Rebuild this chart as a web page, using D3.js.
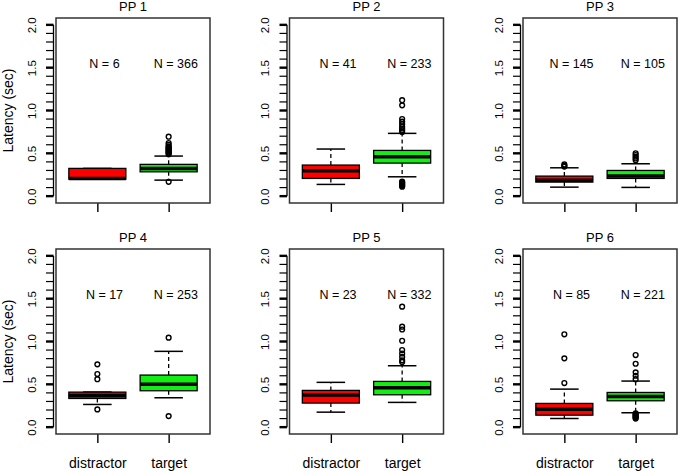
<!DOCTYPE html>
<html>
<head>
<meta charset="utf-8">
<script src="https://cdn.jsdelivr.net/npm/d3@7"></script>
<style>
  body { margin: 0; background: #fff; }
  svg { font-family: "Liberation Sans", Arial, sans-serif; }
</style>
</head>
<body>
<div id="chart"></div>
<script>
// data (seconds)
var panelTitles = ["PP 1", "PP 2", "PP 3", "PP 4", "PP 5", "PP 6"];
var groups = ["distractor", "target"];
var nObs = [[6, 366], [41, 233], [145, 105], [17, 253], [23, 332], [85, 221]];
var whiskerLow = [[0.199, 0.187], [0.137, 0.226], [0.105, 0.102], [0.265, 0.343], [0.175, 0.289], [0.101, 0.168]];
var quart1 = [[0.199, 0.284], [0.207, 0.386], [0.164, 0.207], [0.335, 0.425], [0.281, 0.378], [0.140, 0.308]];
var medians = [[0.205, 0.324], [0.296, 0.460], [0.187, 0.234], [0.370, 0.500], [0.374, 0.460], [0.210, 0.359]];
var quart3 = [[0.324, 0.371], [0.363, 0.534], [0.234, 0.300], [0.409, 0.608], [0.429, 0.534], [0.277, 0.405]];
var whiskerHigh = [[0.324, 0.468], [0.550, 0.733], [0.331, 0.378], [0.410, 0.885], [0.523, 0.717], [0.444, 0.538]];
var outliers = [
    [[], [0.167, 0.49, 0.50, 0.51, 0.52, 0.53, 0.54, 0.55, 0.56, 0.57, 0.58, 0.60, 0.62, 0.694]],
    [[], [0.11, 0.12, 0.13, 0.14, 0.15, 0.16, 0.17, 0.75, 0.77, 0.79, 0.81, 0.84, 0.87, 0.90, 1.06, 1.12]],
    [[0.345, 0.355, 0.37], [0.42, 0.44, 0.46, 0.48, 0.50]],
    [[0.207, 0.56, 0.62, 0.733], [0.129, 1.045]],
    [[], [0.76, 0.78, 0.82, 0.86, 0.90, 1.009, 1.14, 1.173, 1.407]],
    [[0.515, 0.803, 1.084], [0.10, 0.11, 0.12, 0.13, 0.14, 0.15, 0.16, 0.56, 0.60, 0.64, 0.74, 0.842]]
];
var yTicks = [0, 0.1, 0.2, 0.3, 0.4, 0.5, 0.6, 0.7, 0.8, 0.9, 1.0, 1.1, 1.2, 1.3, 1.4, 1.5, 1.6, 1.7, 1.8, 1.9, 2.0];
var yMajor = [0, 0.5, 1.0, 1.5, 2.0];
var groupColors = ["#ff0000", "#11ee11"];

var W = 679, H = 471;
var panelW = 154, panelH = 185;
var panelX = [56, 289.5, 523];
var panelY = [18, 249];

var svg = d3.select('#chart')
    .append('svg')
    .attr('width', W)
    .attr('height', H);

// scales shared by all panels (R style 4% padding)
var x = d3.scaleLinear().domain([0.42, 2.58]).range([0, panelW]);
var y = d3.scaleLinear().domain([-0.08, 2.08]).range([panelH, 0]);

var boxHalf = 0.4, stapleHalf = 0.2;

function isMajor(d) {
    return yMajor.some(function(m) { return Math.abs(m - d) < 1e-9; });
}

panelTitles.forEach(function(title, p) {
    var col = p % 3, row = Math.floor(p / 3);
    var g = svg.append('g')
        .attr('transform', 'translate(' + panelX[col] + ',' + panelY[row] + ')');

    // title
    g.append('text')
        .attr('x', panelW / 2)
        .attr('y', -7)
        .attr('text-anchor', 'middle')
        .attr('font-size', 13)
        .text(title);

    // y axis: labels from d3 axis, comb of ticks drawn from the same scale
    var yAxis = d3.axisLeft(y)
        .tickValues(yMajor)
        .tickSize(0)
        .tickFormat(d3.format('.1f'));

    var ya = g.append('g')
        .attr('class', 'y-axis')
        .attr('transform', 'translate(-2.5,0)')
        .call(yAxis);
    ya.select('.domain').remove();
    ya.selectAll('.tick text')
        .attr('x', 0)
        .attr('dy', '0.35em')
        .attr('transform', 'translate(-22,0) rotate(-90)')
        .attr('text-anchor', 'middle')
        .attr('font-size', 11.5)
        .attr('fill', '#000');

    ya.selectAll('line.comb')
        .data(yTicks)
        .enter()
        .append('line')
        .attr('class', 'comb')
        .attr('x1', -7.5)
        .attr('x2', 0)
        .attr('y1', function(d) { return y(d); })
        .attr('y2', function(d) { return y(d); })
        .attr('stroke', '#000')
        .attr('stroke-width', function(d) { return isMajor(d) ? 2.4 : 1.2; });

    ya.append('line')
        .attr('x1', 0)
        .attr('x2', 0)
        .attr('y1', y(yTicks[0]))
        .attr('y2', y(yTicks[yTicks.length - 1]))
        .attr('stroke', '#000')
        .attr('stroke-width', 1.3);

    if (col === 0) {
        g.append('text')
            .attr('transform', 'translate(' + (8 - panelX[0]) + ',' + (panelH / 2) + ') rotate(-90)')
            .attr('text-anchor', 'middle')
            .attr('dy', '0.35em')
            .attr('font-size', 14)
            .text('Latency (sec)');
    }

    // x axis
    var xAxis = d3.axisBottom(x)
        .tickValues([1, 2])
        .tickSize(9)
        .tickSizeOuter(0)
        .tickPadding(15)
        .tickFormat(function(d, i) { return row === 1 ? groups[i] : ''; });
    var xa = g.append('g')
        .attr('transform', 'translate(0,' + panelH + ')')
        .call(xAxis);
    xa.select('.domain').remove();
    xa.selectAll('.tick line').attr('stroke', '#000').attr('stroke-width', 1.4);
    xa.selectAll('.tick text').attr('font-size', 14).attr('fill', '#000');

    // boxes
    groups.forEach(function(grp, i) {
        var cx = i + 1;
        var bg = g.append('g');

        // whiskers
        bg.append('line')
            .attr('x1', x(cx)).attr('x2', x(cx))
            .attr('y1', y(quart3[p][i])).attr('y2', y(whiskerHigh[p][i]))
            .attr('stroke', '#000').attr('stroke-width', 1.3)
            .attr('stroke-dasharray', '4,3');
        bg.append('line')
            .attr('x1', x(cx)).attr('x2', x(cx))
            .attr('y1', y(quart1[p][i])).attr('y2', y(whiskerLow[p][i]))
            .attr('stroke', '#000').attr('stroke-width', 1.3)
            .attr('stroke-dasharray', '4,3');

        // staples
        [whiskerLow[p][i], whiskerHigh[p][i]].forEach(function(v) {
            bg.append('line')
                .attr('x1', x(cx - stapleHalf)).attr('x2', x(cx + stapleHalf))
                .attr('y1', y(v)).attr('y2', y(v))
                .attr('stroke', '#000').attr('stroke-width', 1.5);
        });

        // box
        bg.append('rect')
            .attr('x', x(cx - boxHalf))
            .attr('width', x(cx + boxHalf) - x(cx - boxHalf))
            .attr('y', y(quart3[p][i]))
            .attr('height', Math.max(0, y(quart1[p][i]) - y(quart3[p][i])))
            .attr('fill', groupColors[i])
            .attr('stroke', '#000')
            .attr('stroke-width', 1.3);

        // median
        bg.append('line')
            .attr('x1', x(cx - boxHalf)).attr('x2', x(cx + boxHalf))
            .attr('y1', y(medians[p][i])).attr('y2', y(medians[p][i]))
            .attr('stroke', '#000').attr('stroke-width', 3.5);

        // outliers
        bg.selectAll('circle')
            .data(outliers[p][i])
            .enter()
            .append('circle')
            .attr('cx', x(cx))
            .attr('cy', function(d) { return y(d); })
            .attr('r', 2.4)
            .attr('fill', 'none')
            .attr('stroke', '#000')
            .attr('stroke-width', 1.4);

        // N labels (placed slightly right of the box centre, as in the original)
        g.append('text')
            .attr('x', x(cx + 0.1))
            .attr('y', y(1.55))
            .attr('dy', '0.35em')
            .attr('text-anchor', 'middle')
            .attr('font-size', 12.5)
            .text('N = ' + nObs[p][i]);
    });

    // plot frame
    g.append('rect')
        .attr('width', panelW)
        .attr('height', panelH)
        .attr('fill', 'none')
        .attr('stroke', '#333')
        .attr('stroke-width', 1.5);
});
</script>
</body>
</html>
